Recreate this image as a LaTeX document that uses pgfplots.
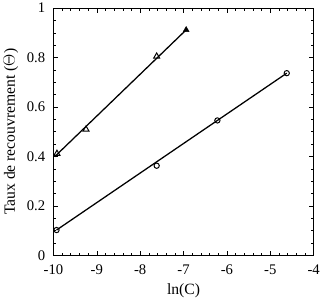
\documentclass[border=0pt]{standalone}
\usepackage{pgfplots}
\pgfplotsset{compat=1.18}
\usepackage{fontspec}
\setmainfont{Liberation Serif}
\begin{document}
\begin{tikzpicture}
\begin{axis}[
  scale only axis,
  width=266pt, height=253pt,
  xmin=-10, xmax=-4, ymin=0, ymax=1,
  xtick={-10,-9,-8,-7,-6,-5,-4},
  ytick={0,0.2,0.4,0.6,0.8,1},
  minor x tick num=4,
  minor y tick num=3,
  tick align=inside,
  major tick length=5pt,
  minor tick length=3pt,
  tick style={black, line width=0.7pt},
  axis line style={line width=0.9pt},
  /pgf/number format/assume math mode=true,
  ticklabel style={font=\fontsize{15}{17}\selectfont},
  xticklabel style={yshift=-6pt},
  yticklabel style={xshift=-5pt},
  label style={font=\fontsize{16}{18}\selectfont},
  xlabel={ln(C)},
  ylabel={Taux de recouvrement ($\Theta$)},
  xlabel style={yshift=-2pt},
  ylabel style={yshift=2pt},
]
\addplot[black, line width=1.3pt] coordinates {(-9.97,0.40) (-6.94,0.912)};
\addplot[black, line width=1.3pt] coordinates {(-9.93,0.103) (-4.62,0.737)};
\addplot[only marks, mark=triangle, mark size=3.5pt, black, mark options={line width=1pt}] coordinates {
(-9.92,0.412) (-9.25,0.51) (-7.62,0.805)};
\addplot[only marks, mark=triangle*, mark size=3.5pt, black] coordinates {(-6.94,0.912)};
\addplot[only marks, mark=o, mark size=2.7pt, black, mark options={line width=1pt, fill=white}] coordinates {
(-9.93,0.103) (-7.62,0.363) (-6.22,0.546) (-4.62,0.737)};
\end{axis}
\end{tikzpicture}
\end{document}
